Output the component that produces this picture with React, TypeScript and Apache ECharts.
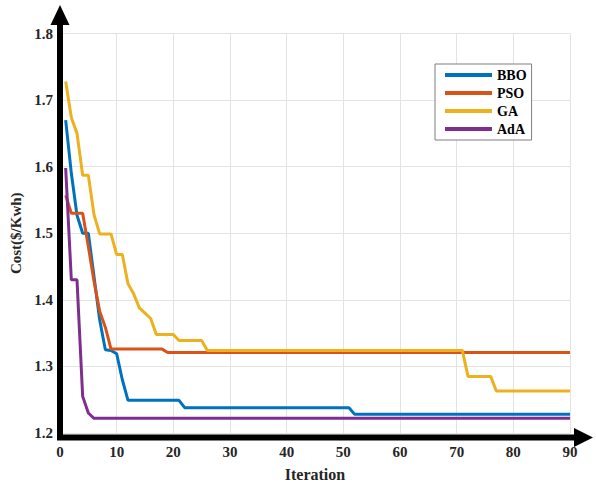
import React, { useEffect, useRef } from "react";
import * as echarts from "echarts";

const seriesNames = ["BBO", "PSO", "GA", "AdA"];
const colors = ["#0072BD", "#D95319", "#EDB120", "#7E2F8E"];

// [iteration, cost] vertices
const bbo: [number, number][] = [
  [1, 1.67], [2, 1.59], [3, 1.527], [4, 1.5], [5, 1.5], [6, 1.435], [7, 1.37],
  [8, 1.325], [9, 1.324], [10, 1.319], [11, 1.28], [12, 1.249], [21, 1.249],
  [22, 1.238], [51, 1.238], [52, 1.228], [90, 1.228],
];
const pso: [number, number][] = [
  [1, 1.557], [2, 1.53], [3, 1.53], [4, 1.53], [5, 1.48], [6, 1.428], [7, 1.383],
  [8, 1.359], [9, 1.326], [18, 1.326], [19, 1.321], [90, 1.321],
];
const ga: [number, number][] = [
  [1, 1.728], [2, 1.674], [3, 1.65], [4, 1.587], [5, 1.587], [6, 1.528], [7, 1.499],
  [9, 1.499], [10, 1.468], [11, 1.468], [12, 1.424], [13, 1.409], [14, 1.388],
  [15, 1.38], [16, 1.372], [17, 1.348], [20, 1.348], [21, 1.339], [25, 1.339],
  [26, 1.324], [71, 1.324], [72, 1.285], [76, 1.285], [77, 1.263], [90, 1.263],
];
const ada: [number, number][] = [
  [1, 1.598], [2, 1.43], [3, 1.43], [4, 1.255], [5, 1.23], [6, 1.222], [90, 1.222],
];

const xTicks = { min: 0, max: 90, interval: 10 };
const yTicks = { min: 1.2, max: 1.8, interval: 0.1 };

const FONT = "'Liberation Serif', 'Times New Roman', serif";

export default function App() {
  const ref = useRef<HTMLDivElement>(null);
  useEffect(() => {
    if (!ref.current) return;
    const chart = echarts.init(ref.current, undefined, { renderer: "svg" });
    const allData = [bbo, pso, ga, ada];
    chart.setOption({
      animation: false,
      backgroundColor: "#ffffff",
      grid: { left: 60, top: 33.5, right: 26, bottom: 49.5, containLabel: false },
      legend: {
        orient: "vertical",
        left: 435,
        top: 64,
        padding: [4, 5, 4, 10],
        itemGap: 4,
        itemWidth: 47,
        itemHeight: 4,
        icon: "rect",
        backgroundColor: "#ffffff",
        borderColor: "#7f7f7f",
        borderWidth: 1,
        borderRadius: 0,
        textStyle: {
          fontFamily: FONT,
          fontWeight: "bold",
          fontSize: 14,
          lineHeight: 14,
          color: "#000000",
          padding: [0, 0, 0, 0],
        },
        data: seriesNames,
      },
      xAxis: {
        type: "value",
        min: xTicks.min,
        max: xTicks.max,
        interval: xTicks.interval,
        name: "Iteration",
        nameLocation: "middle",
        nameGap: 33,
        nameTextStyle: { fontFamily: FONT, fontWeight: "bold", fontSize: 16, color: "#262626" },
        axisLine: { show: false },
        axisTick: { show: false },
        axisLabel: { fontFamily: FONT, fontWeight: "bold", fontSize: 15, color: "#262626", margin: 11 },
        splitLine: { show: true, lineStyle: { color: "#e3e3e3", width: 1 } },
      },
      yAxis: {
        type: "value",
        min: yTicks.min,
        max: yTicks.max,
        interval: yTicks.interval,
        name: "Cost($/Kwh)",
        nameLocation: "middle",
        nameGap: 30,
        nameTextStyle: { fontFamily: FONT, fontWeight: "bold", fontSize: 15, color: "#262626" },
        axisLine: { show: false },
        axisTick: { show: false },
        axisLabel: {
          fontFamily: FONT,
          fontWeight: "bold",
          fontSize: 15,
          color: "#262626",
          margin: 7,
          formatter: (v: number) => v.toFixed(1),
        },
        splitLine: { show: true, lineStyle: { color: "#e3e3e3", width: 1 } },
      },
      series: seriesNames.map((name, i) => ({
        name,
        type: "line",
        data: allData[i],
        showSymbol: false,
        symbol: "none",
        color: colors[i],
        lineStyle: { width: 3, color: colors[i] },
        z: 3,
      })),
      graphic: [
        { type: "line", shape: { x1: 60, y1: 440, x2: 60, y2: 22 }, style: { stroke: "#000", lineWidth: 6 }, z: 10 },
        { type: "polygon", shape: { points: [[60, 5], [50.5, 25], [69.5, 25]] }, style: { fill: "#000" }, z: 10 },
        { type: "line", shape: { x1: 57, y1: 437.5, x2: 577, y2: 437.5 }, style: { stroke: "#000", lineWidth: 6 }, z: 10 },
        { type: "polygon", shape: { points: [[593, 437.5], [574, 428], [574, 447]] }, style: { fill: "#000" }, z: 10 },
      ],
    });
    return () => chart.dispose();
  }, []);
  return <div ref={ref} style={{ width: 596, height: 487, position: "absolute", left: 0, top: 0 }} />;
}
